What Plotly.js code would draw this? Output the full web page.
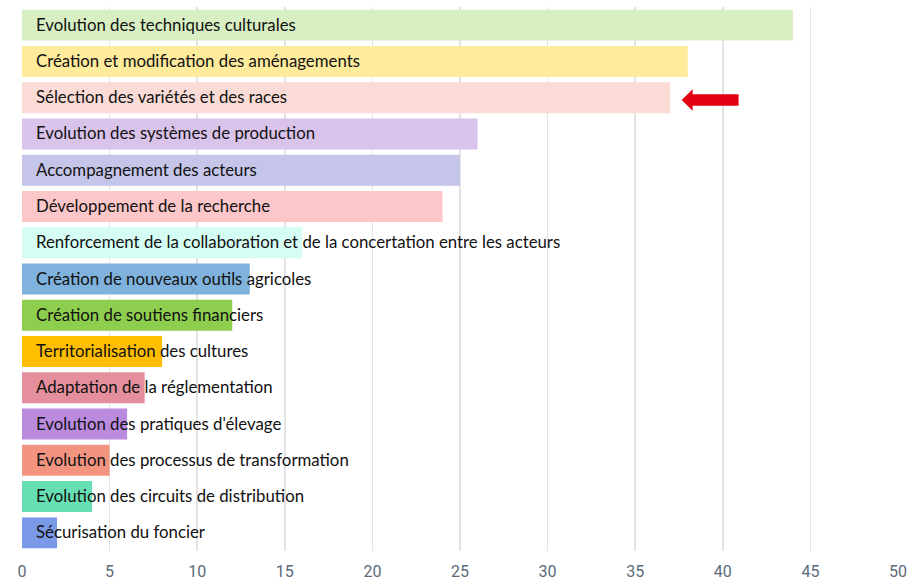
<!DOCTYPE html>
<html>
<head>
<meta charset="utf-8">
<script src="https://cdn.plot.ly/plotly-3.0.1.min.js"></script>
<style>html,body{margin:0;padding:0;background:#fff;}#chart{width:910px;height:583px;}</style>
</head>
<body>
<div id="chart"></div>
<script>
const categories = [
  "Evolution des techniques culturales",
  "Création et modification des aménagements",
  "Sélection des variétés et des races",
  "Evolution des systèmes de production",
  "Accompagnement des acteurs",
  "Développement de la recherche",
  "Renforcement de la collaboration et de la concertation entre les acteurs",
  "Création de nouveaux outils agricoles",
  "Création de soutiens financiers",
  "Territorialisation des cultures",
  "Adaptation de la réglementation",
  "Evolution des pratiques d'élevage",
  "Evolution des processus de transformation",
  "Evolution des circuits de distribution",
  "Sécurisation du foncier"
];
const values = [44, 38, 37, 26, 25, 24, 16, 13, 12, 8, 7, 6, 5, 4, 2];
const barColors = [
  "#d8efc3", "#ffeb9c", "#fadbd5", "#d9c3ea", "#c5c5e9",
  "#fdc6c8", "#d5fdf3", "#7fb2dc", "#8ece4e", "#ffbe00",
  "#e58f9d", "#b98ade", "#f29480", "#66dfb2", "#7a9ae8"
];
const xTicks = [0, 5, 10, 15, 20, 25, 30, 35, 40, 45, 50];
const highlighted = "Sélection des variétés et des races";

const idx = categories.indexOf(highlighted);
const hv = values[idx];

const trace = {
  type: "bar",
  orientation: "h",
  y: categories,
  x: values,
  marker: {color: barColors, line: {width: 0}},
  hoverinfo: "x+y"
};

const annotations = categories.map((c) => ({
  x: 0, y: c, xref: "x", yref: "y",
  text: c, showarrow: false, xanchor: "left", yanchor: "middle",
  xshift: 12, yshift: 1,
  font: {family: "Lato, 'Open Sans', sans-serif", size: 16.8, color: "#111"}
}));

// red arrow pointing at the highlighted bar (x in data units, y in category index units)
const tipX = hv + 0.65, baseX = hv + 1.28, endX = hv + 3.9;
const cy = idx + 0.066;
const arrowPath = `M ${tipX},${cy} L ${baseX},${cy - 0.295} L ${baseX},${cy - 0.157} L ${endX},${cy - 0.157} L ${endX},${cy + 0.157} L ${baseX},${cy + 0.157} L ${baseX},${cy + 0.295} Z`;

const layout = {
  width: 910, height: 583,
  margin: {l: 22, r: 12, t: 7, b: 32},
  paper_bgcolor: "#fff", plot_bgcolor: "#fff",
  showlegend: false,
  bargap: 0.146,
  xaxis: {
    range: [0, 50], tickvals: xTicks, ticktext: xTicks.map(String),
    showgrid: true, gridcolor: "#e3e3e3", gridwidth: 1.5,
    zeroline: false, showline: false, ticks: "",
    ticklabelstandoff: 9,
    tickfont: {family: "Roboto, sans-serif", size: 16, color: "#5a6a7a"},
    fixedrange: true
  },
  yaxis: {
    type: "category", categoryorder: "array", categoryarray: categories,
    autorange: "reversed", showticklabels: false, showgrid: false,
    zeroline: false, showline: false, ticks: "", fixedrange: true
  },
  annotations: annotations,
  shapes: [{
    type: "path", xref: "x", yref: "y", path: arrowPath,
    fillcolor: "#e00012", line: {width: 0}
  }]
};

Plotly.newPlot("chart", [trace], layout, {displayModeBar: false, staticPlot: true});
</script>
</body>
</html>
